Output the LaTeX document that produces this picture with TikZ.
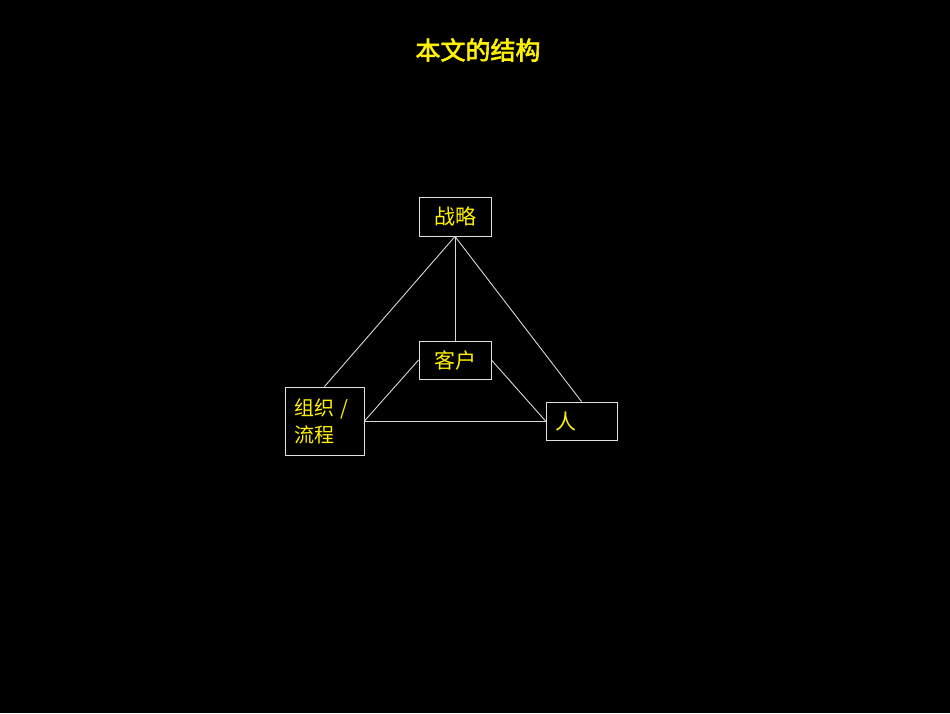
\documentclass[tikz,border=0pt]{standalone}
\usepackage{fontspec}
\newfontfamily\cjk{Noto Sans CJK SC}
\newfontfamily\cjkbold{Noto Sans CJK SC}[FakeBold=2.5]
\begin{document}
\begin{tikzpicture}[x=1pt,y=-1pt,
  box/.style={draw=white!88!black, line width=0.9pt, inner sep=0pt, text=yellow},
  link/.style={draw=white!85!black, line width=0.9pt}]
\fill[black] (0,0) rectangle (950,713);
\useasboundingbox (0,0) rectangle (950,713);
\node[text=yellow, font=\cjkbold\fontsize{25}{30}\selectfont] (title) at (478,50) {本文的结构};
\node[box, minimum width=72pt, minimum height=39pt, font=\cjk\fontsize{21}{24}\selectfont] (zl) at (455,216.5) {战略};
\node[box, minimum width=72pt, minimum height=38pt, font=\cjk\fontsize{21}{24}\selectfont] (kh) at (455,360) {客户};
\node[box, minimum width=79pt, minimum height=68pt, font=\cjk\fontsize{20}{27}\selectfont, align=left, text width=61pt, inner xsep=9pt] (zz) at (324.5,421) {组织 /\\流程};
\node[box, minimum width=71pt, minimum height=38pt, font=\cjk\fontsize{21}{24}\selectfont, align=left, text width=61pt, inner xsep=5pt] (ren) at (581.5,421) {\hspace*{4pt}人};
\draw[link] (zl.south) -- (kh.north);
\draw[link] (zl.south) -- (zz.north);
\draw[link] (zl.south) -- (ren.north);
\draw[link] (kh.west) -- (zz.east);
\draw[link] (kh.east) -- (ren.west);
\draw[link] (zz.east) -- (ren.west);
\end{tikzpicture}
\end{document}
